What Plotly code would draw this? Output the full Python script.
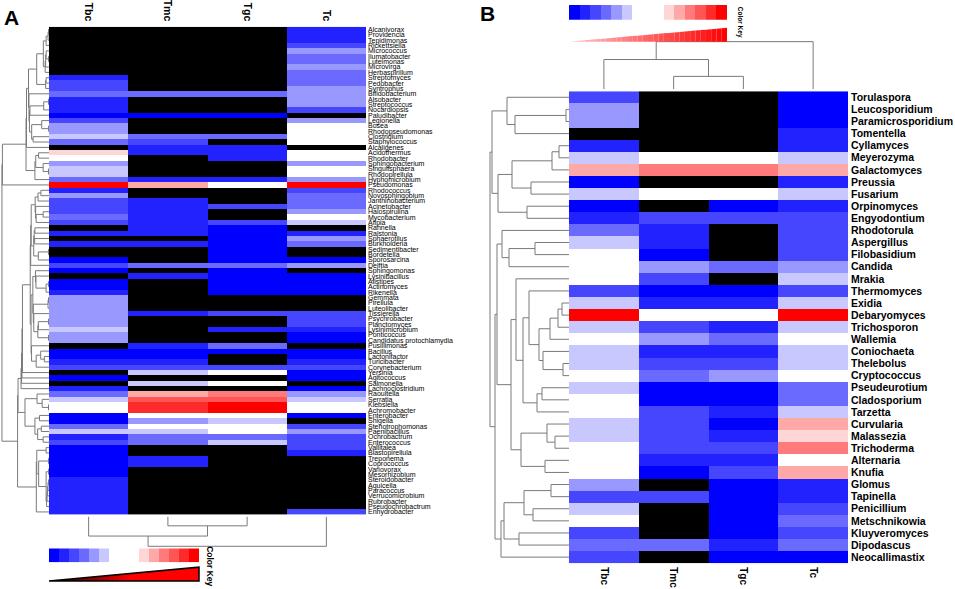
import numpy as np
import plotly.graph_objects as go

W, H = 955, 589

cols = ["Tbc", "Tmc", "Tgc", "Tc"]

# colour levels: -1 = black (absent), 0..5 blues, 6 white, 7..12 reds
level_colors = ["#000000", "#0000FF", "#2222FF", "#4646FF", "#6a6aFF", "#9898FF", "#C8C8FF",
                "#FFFFFF", "#FFD6D6", "#FFA8A8", "#FF7a7a", "#FF5555", "#FF2a2a", "#FF0000"]
key_levels = [0, 1, 2, 3, 4, 5, 6, None, None, 7, 8, 9, 10, 11, 12]

K = -1

# ---- panel A (bacteria) ----
bact_names = [
    "Alcanivorax", "Providencia", "Tepidimonas", "Rickettsiella", "Micrococcus", "Ilumatobacter",
    "Luteimonas", "Microvirga", "Herbaspirillum", "Streptomyces", "Pedobacter", "Syntrophus",
    "Bifidobacterium", "Alsobacter", "Streptococcus", "Nocardiopsis", "Paludibacter", "Legionella",
    "Bosea", "Rhodopseudomonas", "Clostridium", "Staphylococcus", "Alcaligenes", "Acidothermus",
    "Rhodobacter", "Sphingobacterium", "Singulisphaera", "Rhodopirellula", "Hyphomicrobium",
    "Pseudomonas", "Rhodococcus", "Novosphingobium", "Janthinobacterium", "Acinetobacter",
    "Halospirulina", "Mycobacterium", "Afipia", "Rahnella", "Ralstonia", "Sphaerotilus",
    "Burkholderia", "Sedimentibacter", "Bordetella", "Sporosarcina", "Delftia", "Sphingomonas",
    "Lysinibacillus", "Alistipes", "Actinomyces", "Rikenella", "Gemmata", "Pirellula",
    "Luteolibacter", "Tissierella", "Psychrobacter", "Planctomyces", "Lysinimicrobium",
    "Ponticoccus", "Candidatus protochlamydia", "Pusillimonas", "Bacillus", "Lactonifactor",
    "Turicibacter", "Corynebacterium", "Yersinia", "Agitococcus", "Salmonella",
    "Lachnoclostridium", "Raoultella", "Serratia", "Klebsiella", "Achromobacter", "Enterobacter",
    "Shigella", "Stenotrophomonas", "Paenibacillus", "Ochrobactrum", "Enterococcus", "Vallitalea",
    "Blastopirellula", "Treponema", "Coprococcus", "Variovorax", "Mesorhizobium", "Steroidobacter",
    "Aquicella", "Paracoccus", "Verrucomicrobium", "Rubrobacter", "Pseudochrobactrum",
    "Enhydrobacter"]
bact_Tbc = [K, K, K, K, K, K, K, K, K, 1,
            2, 2, 3, 1, 1, 1, 0, 2, 4, 4,
            5, 3, K, 7, 6, 4, 5, 5, 3, 12,
            1, 4, 2, 2, 2, 3, 2, K, 1, K,
            1, K, K, 0, 2, 0, K, 0, 0, 1,
            4, 4, 4, 4, 4, 4, 5, 4, 4, K,
            0, 0, 1, 2, K, 0, K, 1, 3, 5,
            6, 6, 0, 0, 3, 5, 1, 2, 0, 0,
            0, 0, 0, 0, 1, 1, 1, 1, 1, 1,
            1]
bact_Tmc = [K, K, K, K, K, K, K, K, K, K,
            K, K, 3, K, K, K, 0, K, K, K,
            3, 2, 1, 1, K, K, K, K, 1, 8,
            K, K, 1, 1, 1, 1, 1, 1, 1, K,
            1, K, K, K, 3, K, 1, K, K, K,
            K, K, K, 1, K, K, K, K, K, 1,
            0, 0, 1, 2, 5, K, 5, K, 8, 10,
            11, 11, 6, 4, 6, 5, 3, 3, K, K,
            1, 1, K, K, K, K, K, K, K, K,
            K]
bact_Tgc = [K, K, K, K, K, K, K, K, K, K,
            K, K, 3, K, K, K, 0, K, K, K,
            3, K, 1, 1, 1, K, K, K, 1, 6,
            K, K, K, 2, K, K, 2, 0, 0, 0,
            0, 0, 0, 0, 3, 0, 0, 0, 0, 0,
            K, K, K, 2, K, K, 1, K, K, 3,
            0, K, K, 2, 6, K, 6, K, 9, 10,
            12, 12, 6, 5, 6, 6, 3, 5, K, K,
            K, K, K, K, K, K, K, K, K, K,
            K]
bact_Tc = [1, 1, 1, 2, 4, 3, 3, 4, 3, 3,
           3, 4, 4, 4, 4, 2, K, 4, 6, 6,
           6, 6, K, 6, 6, 4, 6, 6, 4, 12,
           2, 3, 3, 3, 4, 6, 5, K, 1, 4,
           3, K, K, 0, 4, K, 0, 0, 0, 0,
           K, K, K, 2, 2, 2, 1, 0, 0, K,
           0, 0, 1, 2, 0, 0, K, 0, 4, 5,
           6, 6, 0, K, 2, 4, 2, 2, 2, 1,
           K, K, K, K, K, K, K, K, K, K,
           2]
bact_col_tree = ((0, (1, 2, 9), 19), 3, 29)

# ---- panel B (fungi) ----
fung_names = [
    "Torulaspora", "Leucosporidium", "Paramicrosporidium", "Tomentella", "Cyllamyces", "Meyerozyma",
    "Galactomyces", "Preussia", "Fusarium", "Orpinomyces", "Engyodontium", "Rhodotorula",
    "Aspergillus", "Filobasidium", "Candida", "Mrakia", "Thermomyces", "Exidia", "Debaryomyces",
    "Trichosporon", "Wallemia", "Coniochaeta", "Thelebolus", "Cryptococcus", "Pseudeurotium",
    "Cladosporium", "Tarzetta", "Curvularia", "Malassezia", "Trichoderma", "Alternaria", "Knufia",
    "Glomus", "Tapinella", "Penicillium", "Metschnikowia", "Kluyveromyces", "Dipodascus",
    "Neocallimastix"]
fung_Tbc = [2, 4, 4, K, 1, 5, 8, 0, 5, 0,
            1, 3, 5, 6, 6, 6, 2, 5, 12, 5,
            6, 5, 5, 6, 5, 6, 6, 5, 5, 6,
            6, 6, 4, 2, 5, 6, 2, 3, 2]
fung_Tmc = [K, K, K, K, K, 6, 9, K, 6, K,
            2, 1, 1, 0, 4, 2, 0, 1, 6, 2,
            4, 1, 2, 3, 0, 0, 2, 2, 2, 2,
            1, 0, K, 2, K, K, K, 3, K]
fung_Tgc = [K, K, K, K, K, 6, 9, K, 6, 0,
            2, K, K, K, 3, K, 0, 1, 6, 1,
            3, 1, 2, 4, 0, 0, 1, 0, 1, 2,
            1, 2, 0, 0, 0, 0, 0, 1, 0]
fung_Tc = [0, 0, 0, 1, 1, 5, 8, 1, 5, 1,
           2, 2, 2, 2, 4, 5, 2, 5, 12, 5,
           6, 5, 5, 6, 3, 3, 5, 8, 7, 9,
           6, 8, 1, 1, 2, 3, 2, 3, 0]
fung_row_tree = (
    ((0, ((1, 2, 3), 3, 54), 62),
     ((((4, 5, 10), 6, 17), (7, 8, 38), 57), (9, 10, 42), 71), 77),
    (((11, ((12, 13, 34), 14, 60), 67),
      ((15, ((16, (((((17, 18, 7), 19, 11), 20, 19), (21, (22, 23, 6), 26), 30)), 40),
              (((24, 25, 27), 26, 32)), 46), 53),
       (((27, (28, 29, 14), 22), (30, 31, 24), 48)), 58), 72),
     ((((32, 33, 18), (34, 35, 36), 45), (36, 37, 50), 65), 38, 68), 74),
    79)
fung_col_tree = ((0, (1, 2, 13), 30), 3, 48)

for nm, lists in [("bact", [bact_names, bact_Tbc, bact_Tmc, bact_Tgc, bact_Tc]),
                  ("fung", [fung_names, fung_Tbc, fung_Tmc, fung_Tgc, fung_Tc])]:
    if len(set(len(l) for l in lists)) != 1:
        raise SystemExit("%s lengths: %s" % (nm, [len(l) for l in lists]))


def fx(x):
    return x / W


def fy(y):
    return 1 - y / H


n = len(level_colors)
cscale = []
for i, c in enumerate(level_colors):
    cscale.append([i / n, c])
    cscale.append([(i + 1) / n, c])


def tree_lines(node, xs, ys, horizontal=True):
    # returns (leaf position, height); appends U-shaped links
    if isinstance(node, int):
        return node, 0.0
    a, b, h = node
    pa, ha = tree_lines(a, xs, ys, horizontal)
    pb, hb = tree_lines(b, xs, ys, horizontal)
    hs = [ha, h, h, hb, None]
    ps = [pa, pa, pb, pb, None]
    if horizontal:
        xs += hs
        ys += ps
    else:
        xs += ps
        ys += hs
    return (pa + pb) / 2, h


# row tree for A: agglomerative clustering of neighbouring rows (keeps the shown order)
M = np.array([bact_Tbc, bact_Tmc, bact_Tgc, bact_Tc], float).T
M[M < 0] = -3
clusters = [(i, [i], 0.0) for i in range(len(bact_names))]
while len(clusters) > 1:
    best = None
    for k in range(len(clusters) - 1):
        A_ = M[clusters[k][1]]
        B_ = M[clusters[k + 1][1]]
        d = np.sqrt(((A_[:, None, :] - B_[None, :, :]) ** 2).sum(-1)).mean()
        if best is None or d < best[0]:
            best = (d, k)
    d, k = best
    h = max(d, clusters[k][2], clusters[k + 1][2]) + 0.2
    node = (clusters[k][0], clusters[k + 1][0], h)
    clusters[k:k + 2] = [(node, clusters[k][1] + clusters[k + 1][1], h)]
bact_row_tree = clusters[0][0]
hmaxA = clusters[0][2]

fig = go.Figure()

def heat(names, c1, c2, c3, c4, xa, ya):
    z = [[c1[i], c2[i], c3[i], c4[i]] for i in range(len(names))]
    return go.Heatmap(z=z, x=[0, 1, 2, 3], y=list(range(len(names))), colorscale=cscale,
                      zmin=-1.5, zmax=12.5, showscale=False, xaxis=xa, yaxis=ya, hoverinfo="skip")

fig.add_trace(heat(bact_names, bact_Tbc, bact_Tmc, bact_Tgc, bact_Tc, "x", "y"))
fig.add_trace(heat(fung_names, fung_Tbc, fung_Tmc, fung_Tgc, fung_Tc, "x5", "y5"))

line = dict(color="#7a7a7a", width=1)
xs, ys = [], []
tree_lines(bact_row_tree, xs, ys, True)
fig.add_trace(go.Scatter(x=xs, y=ys, mode="lines", line=line, xaxis="x2", yaxis="y", hoverinfo="skip"))
xs, ys = [], []
tree_lines(bact_col_tree, xs, ys, False)
fig.add_trace(go.Scatter(x=xs, y=ys, mode="lines", line=line, xaxis="x", yaxis="y3", hoverinfo="skip"))
xs, ys = [], []
tree_lines(fung_row_tree, xs, ys, True)
fig.add_trace(go.Scatter(x=xs, y=ys, mode="lines", line=line, xaxis="x6", yaxis="y5", hoverinfo="skip"))
xs, ys = [], []
tree_lines(fung_col_tree, xs, ys, False)
fig.add_trace(go.Scatter(x=xs, y=ys, mode="lines", line=line, xaxis="x5", yaxis="y7", hoverinfo="skip"))

# colour keys
for xa, ya in [("x4", "y4"), ("x8", "y8")]:
    fig.add_trace(go.Heatmap(z=[key_levels], x=list(range(len(key_levels))), y=[0], colorscale=cscale,
                             zmin=-1.5, zmax=12.5, showscale=False, xaxis=xa, yaxis=ya, hoverinfo="skip"))


def ax(domain, **kw):
    d = dict(domain=domain, showgrid=False, zeroline=False, showticklabels=False, ticks="",
             showline=False, fixedrange=True)
    d.update(kw)
    return d


font = "Arial, Liberation Sans, sans-serif"
col_text = ["<b>%s</b>" % c for c in cols]

fig.update_layout(
    width=W, height=H, margin=dict(l=0, r=0, t=0, b=0), showlegend=False,
    paper_bgcolor="white", plot_bgcolor="white",
    xaxis=ax([fx(49), fx(366)], anchor="y", range=[-0.5, 3.5], side="top", showticklabels=True,
             tickvals=[0, 1, 2, 3], ticktext=col_text, tickangle=90, ticklabelstandoff=3,
             tickfont=dict(family=font, size=10.5, color="black")),
    yaxis=ax([fy(516), fy(24)], anchor="x", range=[len(bact_names) - 0.5, -0.5], side="right",
             showticklabels=True, tickvals=list(range(len(bact_names))), ticktext=bact_names,
             ticklabelstandoff=1, tickfont=dict(family=font, size=7, color="black")),
    xaxis2=ax([fx(1), fx(49)], anchor="y", range=[hmaxA * 1.02, 0]),
    yaxis3=ax([fy(550), fy(518)], anchor="x", range=[31, 0]),
    xaxis4=ax([fx(49), fx(199)], anchor="y4", range=[-0.5, len(key_levels) - 0.5]),
    yaxis4=ax([fy(564), fy(550)], anchor="x4", range=[-0.5, 0.5]),
    xaxis5=ax([fx(569), fx(848)], anchor="y5", range=[-0.5, 3.5], side="bottom", showticklabels=True,
              tickvals=[0, 1, 2, 3], ticktext=col_text, tickangle=90, ticklabelstandoff=3,
              tickfont=dict(family=font, size=10, color="black")),
    yaxis5=ax([fy(565), fy(89)], anchor="x5", range=[len(fung_names) - 0.5, -0.5], side="right",
              showticklabels=True, tickvals=list(range(len(fung_names))),
              ticktext=["<b>%s</b>" % s for s in fung_names], ticklabelstandoff=2,
              tickfont=dict(family=font, size=10.5, color="black")),
    xaxis6=ax([fx(488), fx(569)], anchor="y5", range=[81, 0]),
    yaxis7=ax([fy(87), fy(38)], anchor="x5", range=[0, 49]),
    xaxis8=ax([fx(569), fx(727)], anchor="y8", range=[-0.5, len(key_levels) - 0.5]),
    yaxis8=ax([fy(17), fy(2)], anchor="x8", range=[-0.5, 0.5]),
)

# key wedges
shapes = []
def wedge(L, R, top, bot, c0, c1, nseg, outline):
    for i in range(nseg):
        t0, t1 = i / nseg, (i + 1) / nseg
        x0, x1 = L + (R - L) * t0, L + (R - L) * t1
        y0, y1 = bot - (bot - top) * t0, bot - (bot - top) * t1
        t = min(1.0, (t0 + t1) / 2 / 0.55) if outline else (t0 + t1) / 2
        col = "rgb(%d,%d,%d)" % tuple(int(c0[j] + (c1[j] - c0[j]) * t) for j in range(3))
        shapes.append(dict(type="path", xref="paper", yref="paper", line=dict(width=0), fillcolor=col,
                           path="M %f %f L %f %f L %f %f L %f %f Z" % (fx(x0), fy(bot), fx(x1), fy(bot),
                                                                        fx(x1), fy(y1), fx(x0), fy(y0))))
    if outline:
        shapes.append(dict(type="path", xref="paper", yref="paper", line=dict(color="black", width=1.5),
                           path="M %f %f L %f %f L %f %f Z" % (fx(L), fy(bot), fx(R), fy(bot), fx(R), fy(top))))

wedge(49, 199, 569, 583, (20, 0, 0), (255, 0, 0), 30, True)
wedge(569, 727, 25, 39, (255, 200, 200), (255, 0, 0), 30, False)
fig.update_layout(shapes=shapes)

ann = [
    dict(text="<b>A</b>", x=fx(2), y=fy(15), xanchor="left", yanchor="middle", font=dict(size=21)),
    dict(text="<b>B</b>", x=fx(478), y=fy(11), xanchor="left", yanchor="middle", font=dict(size=21)),
    dict(text="<b>Color Key</b>", x=fx(210), y=fy(568), textangle=90, font=dict(size=8.5)),
    dict(text="<b>Color Key</b>", x=fx(740), y=fy(19), textangle=90, font=dict(size=6.5)),
]
for a in ann:
    a.update(xref="paper", yref="paper", showarrow=False)
    a.setdefault("xanchor", "center")
    a.setdefault("yanchor", "middle")
    a["font"].update(family=font, color="black")
fig.update_layout(annotations=ann)

# page body has a default 8px margin; drop it so the figure fills the window
fig.write_html("out.html", config={"displayModeBar": False},
               post_script="document.body.style.margin='0';")
